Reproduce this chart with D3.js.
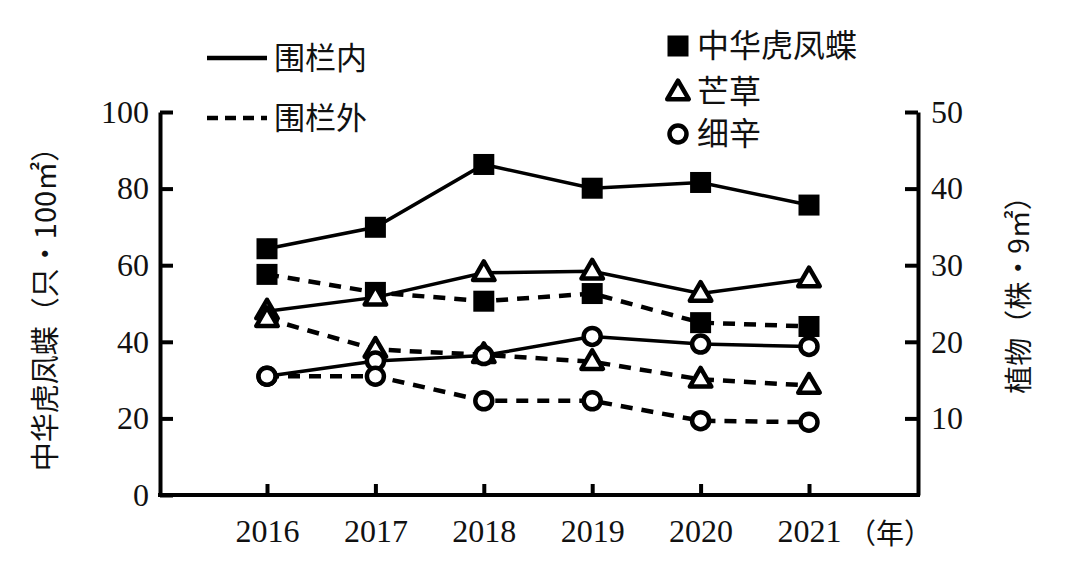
<!DOCTYPE html>
<html><head><meta charset="utf-8">
<script src="https://cdn.jsdelivr.net/npm/d3@7/dist/d3.min.js"></script>
<style>
html,body{margin:0;padding:0;background:#fff;}
svg{display:block;}
</style></head>
<body>
<svg id="chart" width="1080" height="579"></svg>
<script>
// ---- data ----
const years = ["2016", "2017", "2018", "2019", "2020", "2021"];
const leftTicks = [0, 20, 40, 60, 80, 100];
const rightTicks = [10, 20, 30, 40, 50];
// 中华虎凤蝶 (只·100㎡), left axis
const butterflyIn  = [64.3, 69.9, 86.3, 80.1, 81.6, 75.7];
const butterflyOut = [57.6, 52.9, 50.6, 52.6, 45.0, 44.0];
// 芒草 (株·9㎡), right axis
const grassIn  = [24.0, 25.8, 29.0, 29.2, 26.3, 28.2];
const grassOut = [23.0, 19.0, 18.3, 17.4, 15.1, 14.3];
// 细辛 (株·9㎡), right axis
const asarumIn  = [15.5, 17.5, 18.2, 20.7, 19.7, 19.4];
const asarumOut = [15.5, 15.5, 12.3, 12.3, 9.7, 9.5];

const series = [
  {name:"butterflyIn",  values:butterflyIn,  axis:"L", dash:false, mark:"square"},
  {name:"butterflyOut", values:butterflyOut, axis:"L", dash:true,  mark:"square"},
  {name:"grassIn",      values:grassIn,      axis:"R", dash:false, mark:"triangle"},
  {name:"grassOut",     values:grassOut,     axis:"R", dash:true,  mark:"triangle"},
  {name:"asarumIn",     values:asarumIn,     axis:"R", dash:false, mark:"circle"},
  {name:"asarumOut",    values:asarumOut,    axis:"R", dash:true,  mark:"circle"}
];

const NUM_FONT = "'Liberation Serif','Times New Roman',serif";
const CJK_FONT = "'Noto Sans CJK SC','Noto Sans',sans-serif";

const svg = d3.select("#chart");
const x = d3.scalePoint().domain(years).range([267, 809]);
const yL = d3.scaleLinear().domain([0, 100]).range([495, 112]);
const yR = d3.scaleLinear().domain([0, 50]).range([495, 112]);
const axL = 160, axR = 918, base = 495;

// frame bottom line
svg.append("line").attr("x1", axL - 2).attr("x2", axR + 2).attr("y1", base).attr("y2", base)
  .attr("stroke", "#000").attr("stroke-width", 4);

// left axis
const gL = svg.append("g").attr("transform", `translate(${axL},0)`)
  .call(d3.axisLeft(yL).tickValues(leftTicks).tickSizeInner(-13).tickSizeOuter(0).tickPadding(11));
// right axis
const gR = svg.append("g").attr("transform", `translate(${axR},0)`)
  .call(d3.axisRight(yR).tickValues(rightTicks).tickSizeInner(-13).tickSizeOuter(0).tickPadding(13));
// bottom axis
const gB = svg.append("g").attr("transform", `translate(0,${base})`)
  .call(d3.axisBottom(x).tickSizeInner(-11).tickSizeOuter(0).tickPadding(24));
gB.select(".domain").remove();

[gL, gR, gB].forEach(g => {
  g.selectAll(".domain").attr("stroke", "#000").attr("stroke-width", 4);
  g.selectAll(".tick line").attr("stroke", "#000").attr("stroke-width", 4);
  g.selectAll(".tick text").attr("fill", "#111").style("font-family", NUM_FONT).style("font-size", "32px");
});

// axis titles
svg.append("text").attr("transform", "translate(56,302) rotate(-90)")
  .attr("text-anchor", "middle").style("font-family", CJK_FONT).style("font-size", "29px").attr("fill", "#111")
  .text("中华虎凤蝶（只・100㎡）");
svg.append("text").attr("transform", "translate(1029,288) rotate(-90)")
  .attr("text-anchor", "middle").style("font-family", CJK_FONT).style("font-size", "28px").attr("fill", "#111")
  .text("植物（株・9㎡）");
svg.append("text").attr("x", 890).attr("y", 544).attr("text-anchor", "middle")
  .style("font-family", CJK_FONT).style("font-size", "28px").attr("fill", "#111").text("（年）");

// lines
const gLines = svg.append("g");
series.forEach(s => {
  const yS = s.axis === "L" ? yL : yR;
  const line = d3.line().x((d, i) => x(years[i])).y(d => yS(d));
  gLines.append("path").datum(s.values).attr("d", line)
    .attr("fill", "none").attr("stroke", "#000")
    .attr("stroke-width", s.dash ? 4.5 : 3.5)
    .attr("stroke-dasharray", s.dash ? "12,9" : null);
});

// markers
const gM = svg.append("g");
function drawMark(g, type, cx, cy) {
  if (type === "square") {
    g.append("rect").attr("x", cx - 10.5).attr("y", cy - 10.5).attr("width", 21).attr("height", 21).attr("fill", "#000");
  } else if (type === "triangle") {
    g.append("path").attr("d", d3.symbol().type(d3.symbolTriangle).size(200)())
      .attr("transform", `translate(${cx},${cy + 1})`)
      .attr("fill", "#fff").attr("stroke", "#000").attr("stroke-width", 4.5).attr("stroke-linejoin", "round");
  } else {
    g.append("circle").attr("cx", cx).attr("cy", cy).attr("r", 8.5)
      .attr("fill", "#fff").attr("stroke", "#000").attr("stroke-width", 4.5);
  }
}
series.forEach(s => {
  const yS = s.axis === "L" ? yL : yR;
  s.values.forEach((v, i) => drawMark(gM, s.mark, x(years[i]), yS(v)));
});

// legend: lines
const legLines = [{label:"围栏内", dash:false, y:58}, {label:"围栏外", dash:true, y:118}];
legLines.forEach(d => {
  svg.append("line").attr("x1", 207).attr("x2", 267).attr("y1", d.y).attr("y2", d.y)
    .attr("stroke", "#000").attr("stroke-width", 4.5).attr("stroke-dasharray", d.dash ? "11,7" : null);
  svg.append("text").attr("x", 274).attr("y", d.y + 11).style("font-family", CJK_FONT)
    .style("font-size", "31px").attr("fill", "#111").text(d.label);
});
// legend: markers
const legMarks = [{label:"中华虎凤蝶", mark:"square", y:46}, {label:"芒草", mark:"triangle", y:92}, {label:"细辛", mark:"circle", y:134}];
legMarks.forEach(d => {
  drawMark(svg, d.mark, 678, d.y);
  svg.append("text").attr("x", 697).attr("y", d.y + 11).style("font-family", CJK_FONT)
    .style("font-size", "32px").attr("fill", "#111").text(d.label);
});
</script>
</body></html>
